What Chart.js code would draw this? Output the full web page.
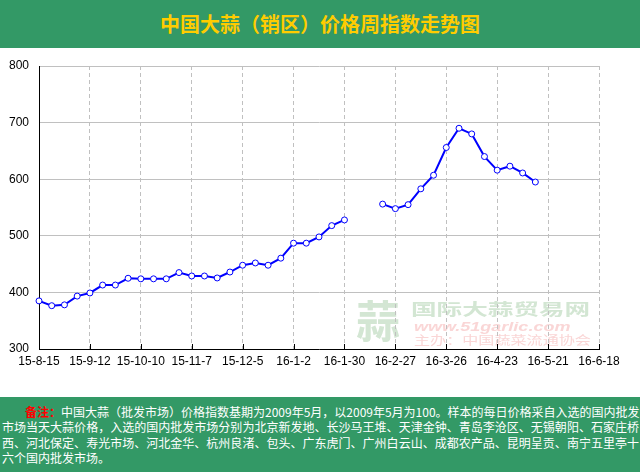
<!DOCTYPE html>
<html>
<head>
<meta charset="utf-8">
<script src="https://cdn.jsdelivr.net/npm/chart.js@4"></script>
<style>
  body { margin: 0; width: 640px; height: 472px; overflow: hidden; background: #fff; font-family: "Noto Sans CJK SC", sans-serif; }
  #head { height: 48px; background: #339966; color: #FFCC00; font-size: 20px; font-weight: bold; text-align: center; line-height: 48px; }
  #box { position: relative; width: 640px; height: 349px; }
  #box canvas { display: block; }
  #foot { position: absolute; top: 397px; left: 0; width: 640px; height: 75px; background: #339966; color: #fff; font-size: 12px; line-height: 15.3px; padding-top: 7px; box-sizing: border-box; }
  #foot div { padding: 0 1px 0 2px; text-align: justify; text-align-last: justify; white-space: nowrap; }
  #foot div.last { text-align-last: left; }
  #foot b { color: #ff0000; }
</style>
</head>
<body>
<div id="head">中国大蒜（销区）价格周指数走势图</div>
<div id="box"><canvas id="priceChart" width="640" height="349"></canvas></div>
<div id="foot">
  <div style="padding-left:25px"><b>备注：</b>中国大蒜（批发市场）价格指数基期为2009年5月，以2009年5月为100。样本的每日价格采自入选的国内批发</div>
  <div>市场当天大蒜价格，入选的国内批发市场分别为北京新发地、长沙马王堆、天津金钟、青岛李沧区、无锡朝阳、石家庄桥</div>
  <div>西、河北保定、寿光市场、河北金华、杭州良渚、包头、广东虎门、广州白云山、成都农产品、昆明呈贡、南宁五里亭十</div>
  <div class="last">六个国内批发市场。</div>
</div>
<script>
const weeks = [
  '15-8-15', '15-8-22', '15-8-29', '15-9-5', '15-9-12', '15-9-19', '15-9-26', '15-10-3',
  '15-10-10', '15-10-17', '15-10-24', '15-10-31', '15-11-7', '15-11-14', '15-11-21', '15-11-28',
  '15-12-5', '15-12-12', '15-12-19', '15-12-26', '16-1-2', '16-1-9', '16-1-16', '16-1-23',
  '16-1-30', '16-2-6', '16-2-13', '16-2-20', '16-2-27', '16-3-5', '16-3-12', '16-3-19',
  '16-3-26', '16-4-2', '16-4-9', '16-4-16', '16-4-23', '16-4-30', '16-5-7', '16-5-14',
  '16-5-21', '16-5-28', '16-6-4', '16-6-11', '16-6-18'
];
const indexValues = [
  385, 376.5, 378, 393.5, 399, 413, 413, 425,
  424, 424, 424, 435, 429, 429, 425.5, 436,
  448, 452, 448, 460.5, 487, 487, 498, 518,
  528, null, null, 556, 548, 555, 583, 607,
  656, 690, 680, 640, 616, 623, 611, 595,
  null, null, null, null, null
];
const yTicks = [300, 400, 500, 600, 700, 800];

// watermark (behind the grid) + short ticks inside the plot
const decor = {
  id: 'decor',
  beforeDraw(chart) {
    const ctx = chart.ctx;
    ctx.save();
    ctx.textBaseline = 'middle';
    ctx.fillStyle = '#d3e6d3';
    ctx.font = 'bold 44px "Noto Sans CJK SC"';
    ctx.fillText('蒜', 356, 273);
    ctx.save();
    ctx.translate(411, 261);
    ctx.scale(1.6, 1);
    ctx.font = 'bold 16px "Noto Sans CJK SC"';
    ctx.fillText('国际大蒜贸易网', 0, 0);
    ctx.restore();
    ctx.fillStyle = '#fad6d6';
    ctx.save();
    ctx.translate(414, 280);
    ctx.scale(1.5, 1);
    ctx.font = 'italic bold 12px "Liberation Sans"';
    ctx.fillText('www.51garlic.com', 0, 0);
    ctx.restore();
    ctx.save();
    ctx.translate(414, 292);
    ctx.scale(1.34, 1);
    ctx.font = '12px "Noto Sans CJK SC"';
    ctx.fillText('主办：中国蔬菜流通协会', 0, 0);
    ctx.restore();
    ctx.restore();
  },
  afterDraw(chart) {
    const ctx = chart.ctx;
    const x = chart.scales.x;
    const bottom = chart.chartArea.bottom;
    ctx.save();
    ctx.strokeStyle = '#000';
    ctx.lineWidth = 1;
    for (let i = 4; i < weeks.length; i += 4) {
      const px = Math.round(x.getPixelForValue(i)) + 0.5;
      ctx.beginPath();
      ctx.moveTo(px, bottom);
      ctx.lineTo(px, bottom - 5);
      ctx.stroke();
    }
    ctx.restore();
  }
};

new Chart(document.getElementById('priceChart').getContext('2d'), {
  type: 'line',
  data: {
    labels: weeks,
    datasets: [{
      data: indexValues,
      borderColor: '#0000ff',
      borderWidth: 2,
      pointRadius: 3,
      pointBorderWidth: 1,
      pointBackgroundColor: '#ffffff',
      pointBorderColor: '#0000ff',
      spanGaps: false,
      tension: 0
    }]
  },
  options: {
    responsive: false,
    animation: false,
    events: [],
    layout: { padding: { top: 18, right: 41, left: 0, bottom: 0 } },
    plugins: { legend: { display: false }, tooltip: { enabled: false } },
    scales: {
      x: {
        offset: false,
        afterFit: s => { s.height = 48; },
        grid: {
          color: c => (c.index > 0 ? '#c0c0c0' : 'transparent'),
          drawTicks: false
        },
        border: { color: '#000', width: 1, dash: [4, 3] },
        ticks: {
          autoSkip: false,
          maxRotation: 0,
          padding: 5,
          color: '#000',
          font: { family: 'Liberation Sans', size: 12 },
          callback: (v, i) => (i % 4 === 0 ? weeks[i] : null)
        }
      },
      y: {
        min: 300,
        max: 800,
        afterFit: s => { s.width = 39; },
        afterBuildTicks: s => { s.ticks = yTicks.map(v => ({ value: v })); },
        grid: { color: '#c0c0c0', drawTicks: false },
        border: { color: '#000', width: 1 },
        ticks: {
          padding: 10,
          color: '#000',
          font: { family: 'Liberation Sans', size: 12 }
        }
      }
    }
  },
  plugins: [decor]
});
</script>
</body>
</html>
